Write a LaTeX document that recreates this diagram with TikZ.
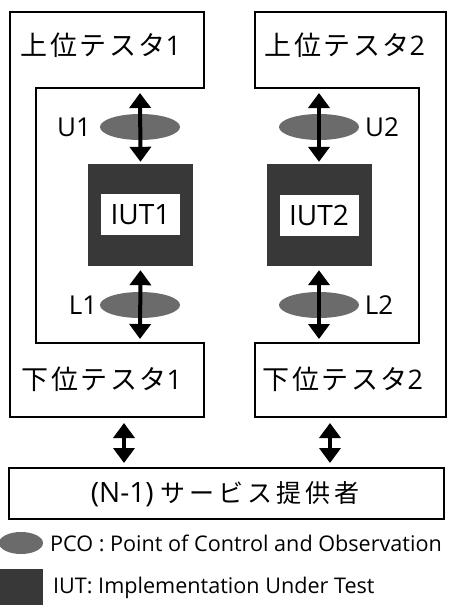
\documentclass[tikz,border=0pt]{standalone}
\usepackage{fontspec}
\setmainfont{Open Sans}
\newfontfamily\jp[LetterSpace=9]{Noto Sans CJK JP}
\newfontfamily\jpwide[LetterSpace=15.5]{Noto Sans CJK JP}
\usetikzlibrary{arrows.meta,shapes.geometric}
\tikzset{
  box/.style={draw=black, line width=1.9pt, line join=miter},
  dbl/.style={line width=4pt, {Triangle[width=21pt,length=15pt]}-{Triangle[width=21pt,length=15pt]}},
  pco/.style={ellipse, fill=black!58, minimum width=80pt, minimum height=26pt, inner sep=0pt},
  iut/.style={rectangle, fill=black!78, minimum width=105pt, minimum height=102pt, inner sep=0pt},
  iutlabel/.style={rectangle, fill=white, minimum width=79pt, minimum height=41pt, inner sep=0pt, font=\fontsize{28}{30}\selectfont},
  jlabel/.style={inner sep=0pt, font=\fontsize{27}{30}\selectfont},
  lbl/.style={inner sep=0pt, font=\fontsize{26}{28}\selectfont},
  legend/.style={inner sep=0pt, anchor=west, font=\fontsize{21.6}{24}\selectfont},
}
\begin{document}
\begin{tikzpicture}[x=1pt,y=-1pt]
\useasboundingbox (0,0) rectangle (452,605);
% tester shapes
\draw[box] (10,12) -- (204,12) -- (204,88) -- (36,88) -- (36,343) -- (204,343) -- (204,417) -- (10,417) -- cycle;
\draw[box] (255,12) -- (446,12) -- (446,417) -- (255,417) -- (255,343) -- (419,343) -- (419,88) -- (255,88) -- cycle;
% provider
\node[box, rectangle, minimum width=435pt, minimum height=51pt, inner sep=0pt] (prov) at (226.5,493.5) {};
\node[jlabel, font=\fontsize{28}{30}\selectfont] (provtext) at (225,494) {(N-1) {\fontsize{25}{30}\selectfont\jpwide サービス提供者}};
% tester labels
\node[jlabel] (ut1) at (101,45) {{\jp 上位テスタ}1};
\node[jlabel] (ut2) at (345,45) {{\jp 上位テスタ}2};
\node[jlabel] (lt1) at (102,379) {{\jp 下位テスタ}1};
\node[jlabel] (lt2) at (343,379) {{\jp 下位テスタ}2};
% IUTs
\node[iut] (iut1) at (140.5,215) {};
\node[iutlabel] (iut1l) at (140.5,214.5) {IUT1};
\node[iut] (iut2) at (319,215) {};
\node[iutlabel] (iut2l) at (319,215.5) {IUT2};
% PCOs
\node[pco] (u1) at (140,127) {};
\node[pco] (l1) at (140,305) {};
\node[pco] (u2) at (319,127) {};
\node[pco] (l2) at (319,305) {};
\node[lbl] (u1t) at (74,127) {U1};
\node[lbl] (l1t) at (83,305) {L1};
\node[lbl] (u2t) at (382,127) {U2};
\node[lbl] (l2t) at (379,305) {L2};
% arrow end coordinates
\coordinate (a1) at (140,93);
\coordinate (a2) at (140,339);
\coordinate (b1) at (319,93);
\coordinate (b2) at (319,339);
\coordinate (c1) at (124,423);
\coordinate (c2) at (124,463);
\coordinate (d1) at (330,423);
\coordinate (d2) at (330,463);
\draw[dbl] (a1) -- ([yshift=2pt]iut1.north);
\draw[dbl] ([yshift=-4pt]iut1.south) -- (a2);
\draw[dbl] (b1) -- ([yshift=2pt]iut2.north);
\draw[dbl] ([yshift=-4pt]iut2.south) -- (b2);
\draw[dbl] (c1) -- (c2);
\draw[dbl] (d1) -- (d2);
% legend
\node[pco, minimum width=44pt, minimum height=22pt] (lgp) at (21,543) {};
\node[legend] (lgpt) at (50,543) {PCO : Point of Control and Observation};
\node[rectangle, fill=black!78, minimum width=43pt, minimum height=36pt, inner sep=0pt] (lgi) at (21.5,587) {};
\node[legend] (lgit) at (53,588) {IUT: Implementation Under Test};
\end{tikzpicture}
\end{document}
